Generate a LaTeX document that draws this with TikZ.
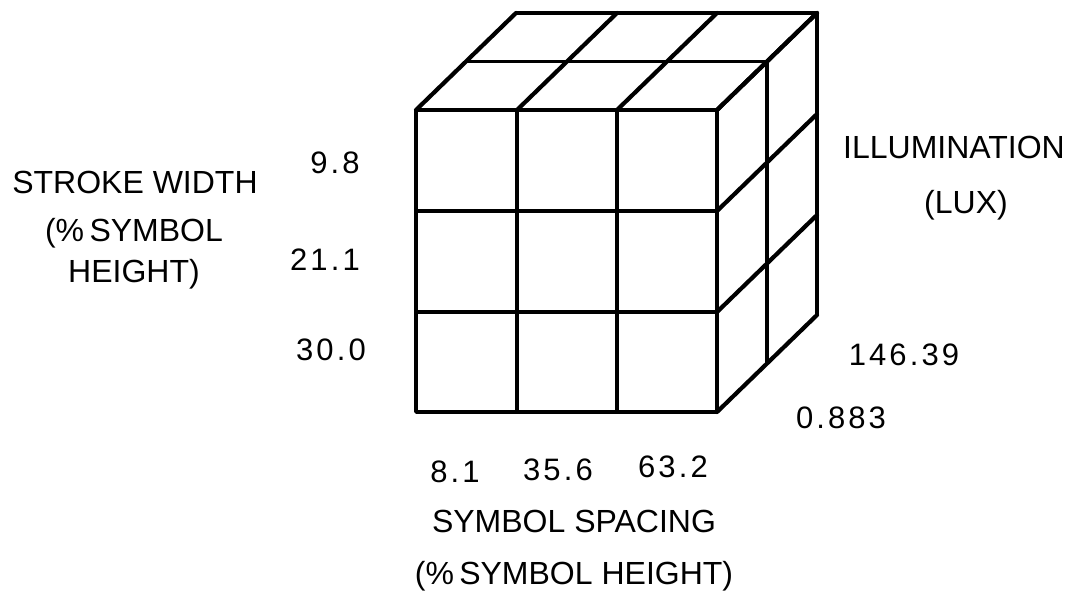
\documentclass[tikz,border=0pt]{standalone}
\usepackage{fontspec}
\setmainfont{Liberation Sans}
\newfontfamily\numfont[LetterSpace=10]{Liberation Sans}
\begin{document}
\begin{tikzpicture}[x=1pt,y=-1pt,
  edge/.style={line width=3.4pt,line cap=round,line join=round},
  slant/.style={line width=4.2pt,line cap=round,line join=round},
  lab/.style={anchor=base,inner sep=0pt,font=\fontsize{32}{36}\selectfont},
  num/.style={anchor=base,inner sep=0pt,font=\fontsize{31}{36}\numfont}]
\useasboundingbox (0,0) rectangle (1082,594);
% front face
\draw[edge] (416,110) rectangle (717,412);
\draw[edge] (517,110) -- (517,412);
\draw[edge] (617,110) -- (617,412);
\draw[edge] (416,211) -- (717,211);
\draw[edge] (416,312) -- (717,312);
% top face
\draw[edge] (466,61.5) -- (767,61.5);
\draw[edge] (516,13) -- (817,13);
\foreach \x in {416,517,617,717} \draw[slant] (\x,110) -- ++(100,-97);
% right face
\draw[edge] (767,61.5) -- (767,363.5);
\draw[edge] (817,13) -- (817,315);
\foreach \y in {110,211,312,412} \draw[slant] (717,\y) -- ++(100,-97);
% labels
\node[lab] (sw1) at (135,193) {STROKE WIDTH};
\node[lab] (sw2) at (134,241) {(\%\,SYMBOL};
\node[lab] (sw3) at (134,282) {HEIGHT)};
\node[num] (n98) at (335,173) {9.8};
\node[num] (n211) at (325,270) {21.1};
\node[num] (n300) at (331,360) {30.0};
\node[lab] (il1) at (954,158) {ILLUMINATION};
\node[lab] (il2) at (966,213) {(LUX)};
\node[num] (n146) at (904,365) {146.39};
\node[num] (n088) at (841,428) {0.883};
\node[num] (n81) at (455,482) {8.1};
\node[num] (n356) at (558,480) {35.6};
\node[num] (n632) at (673,477) {63.2};
\node[lab] (ss1) at (574,532) {SYMBOL SPACING};
\node[lab] (ss2) at (574,584) {(\%\,SYMBOL HEIGHT)};
\end{tikzpicture}
\end{document}
